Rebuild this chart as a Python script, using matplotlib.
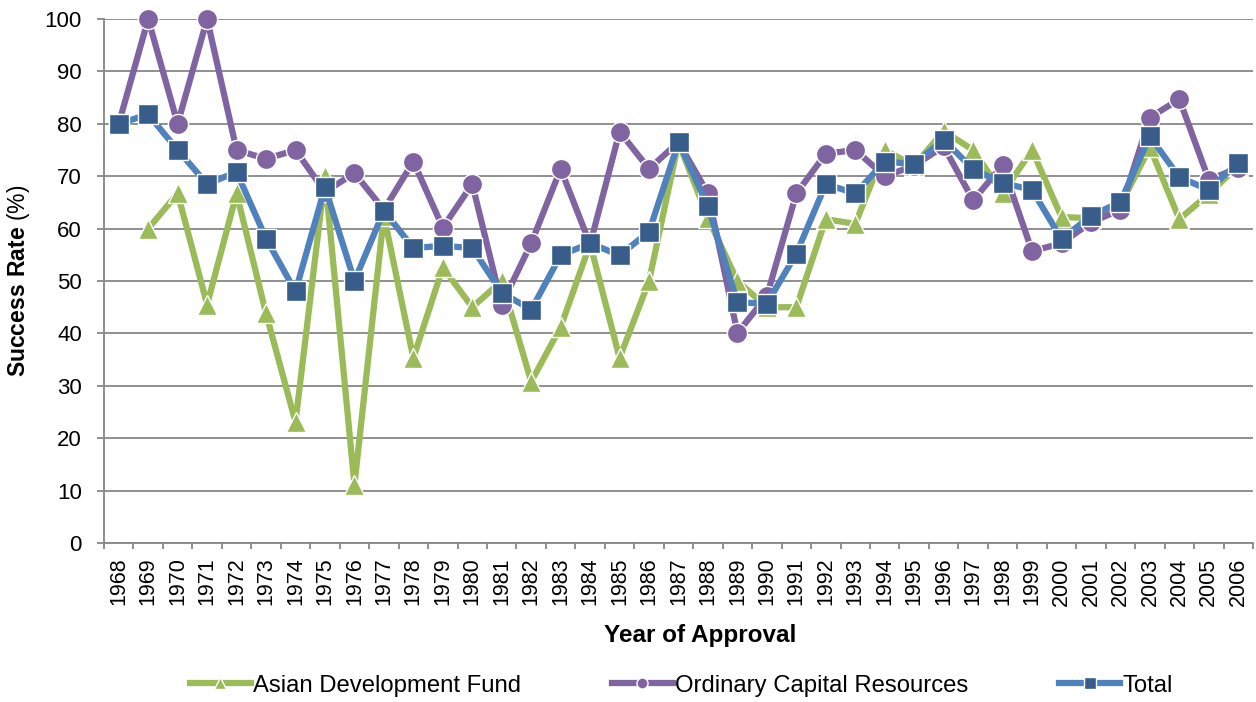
import matplotlib
matplotlib.use("Agg")
import matplotlib.pyplot as plt
import numpy as np

plt.rcParams["font.family"] = ["Liberation Sans", "DejaVu Sans"]
plt.rcParams["mathtext.fontset"] = "custom"
plt.rcParams["mathtext.rm"] = "Liberation Sans"
plt.rcParams["mathtext.bf"] = "Liberation Sans:bold"

years = [str(y) for y in range(1968, 2007)]

adf = [np.nan, 60.0, 66.7, 45.5, 66.7, 43.8, 23.1, 70.0, 11.1, 62.5,
       35.3, 52.6, 45.0, 50.0, 30.8, 41.2, 57.1, 35.3, 50.0, 76.5,
       62.0, 50.0, 45.0, 45.0, 61.8, 60.9, 75.0, 72.0, 78.6, 75.0,
       66.7, 75.0, 62.2, 62.0, 64.5, 75.5, 61.8, 66.6, 72.0]

ocr = [80.0, 100.0, 80.0, 100.0, 75.0, 73.3, 75.0, 67.0, 70.6, 63.6,
       72.8, 60.2, 68.5, 45.5, 57.2, 71.4, 57.0, 78.5, 71.4, 76.5,
       66.7, 40.1, 47.1, 66.7, 74.3, 75.0, 70.0, 72.0, 75.7, 65.4,
       72.1, 55.7, 57.2, 61.2, 63.6, 81.2, 84.7, 69.3, 71.6]

total = [80.0, 81.8, 75.0, 68.5, 70.8, 58.1, 48.0, 67.9, 50.0, 63.4,
         56.3, 56.7, 56.3, 47.8, 44.5, 54.9, 57.2, 54.9, 59.4, 76.5,
         64.3, 45.9, 45.7, 55.2, 68.5, 66.7, 72.8, 72.3, 77.0, 71.3,
         68.7, 67.4, 58.0, 62.4, 65.1, 77.6, 69.8, 67.4, 72.6]

SERIES = [
    ("Asian Development Fund", adf, "#9BBB59", "#9BBB59", "^"),
    ("Ordinary Capital Resources", ocr, "#8064A2", "#8064A2", "o"),
    ("Total", total, "#4F81BD", "#385D8A", "s"),
]

fig = plt.figure(figsize=(12.56, 7.02), dpi=100)
ax = fig.add_axes([104 / 1256, 159 / 702, 1149 / 1256, 524 / 702])

x = np.arange(len(years))
for label, vals, line_c, face_c, marker in SERIES:
    ax.plot(x, vals, color=line_c, linewidth=4.5, marker=marker, markersize=14.5,
            markerfacecolor=face_c, markeredgecolor="white", markeredgewidth=1.0,
            label=label, clip_on=False, zorder=3)

ax.set_xlim(-0.5, len(years) - 0.5)
ax.set_ylim(0, 100)
ax.set_yticks(np.arange(0, 101, 10))
ax.set_xticks(x)
ax.set_xticklabels(years, rotation=90)
ax.set_xticks(np.arange(-0.5, len(years), 1.0), minor=True)

grid_c = "#878787"
ax.grid(axis="y", color=grid_c, linewidth=1.3, zorder=0)
ax.set_axisbelow(True)
for side in ("top", "right"):
    ax.spines[side].set_visible(False)
for side in ("left", "bottom"):
    ax.spines[side].set_color(grid_c)
    ax.spines[side].set_linewidth(1.3)

ax.tick_params(axis="y", length=5, width=1.3, color=grid_c, pad=11, labelsize=16)
ax.tick_params(axis="x", which="major", length=0, pad=10.5, labelsize=15.5)
ax.tick_params(axis="x", which="minor", length=4, width=1.3, color=grid_c)

ax.set_xlabel("Year of Approval", fontsize=17.5, fontweight="bold", labelpad=12)
ax.xaxis.set_label_coords(0.5187, -0.155)
ax.set_ylabel(r"$\mathbf{Success\ Rate}$ (%)", fontsize=16.5, labelpad=9)

handles, labels = ax.get_legend_handles_labels()
fig.legend(handles, labels, loc="center", bbox_to_anchor=(0.5426, 0.023), ncol=3,
           frameon=False, fontsize=17.2, handlelength=2.55, handletextpad=0.1,
           columnspacing=3.8, markerscale=0.55)

fig.savefig("out.png", dpi=100)
